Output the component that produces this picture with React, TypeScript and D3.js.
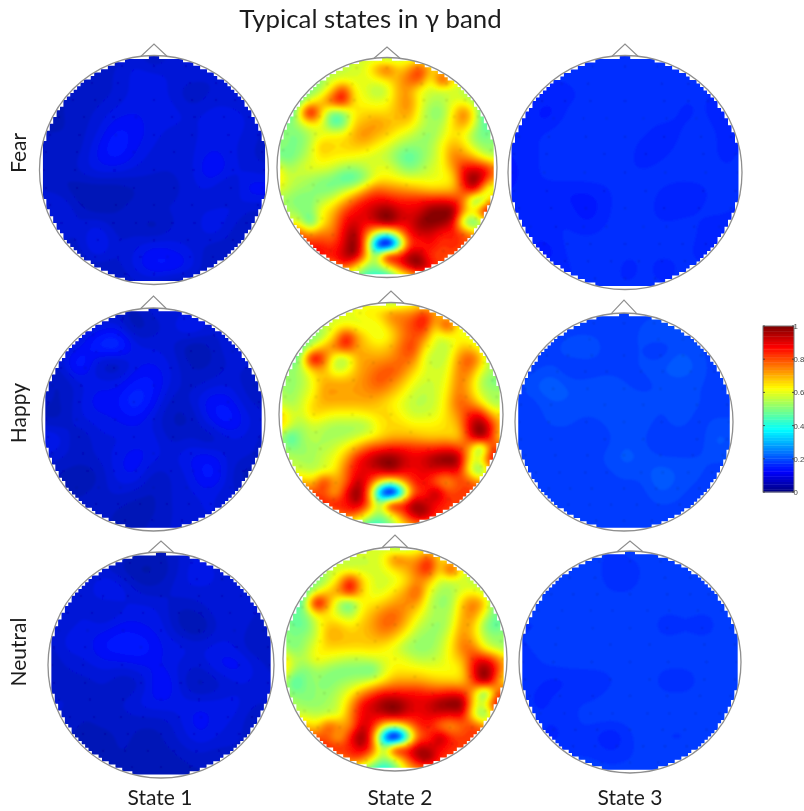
import React, { useMemo } from "react";
import * as d3 from "d3";

// ---------- values (percent of the 0..1 colour range) ----------
const fearState2 = [
[55,55,55,55,55,55,55,58,58,56,52,56,58,58,58,58,58,58,58,58,58],
[55,55,55,55,55,55,57,58,60,70,78,67,72,82,68,64,60,58,58,58,58],
[50,50,50,50,52,58,60,60,60,62,66,70,78,80,62,84,66,58,56,56,56],
[45,45,45,50,56,68,84,64,60,55,58,70,72,62,58,58,58,56,50,48,48],
[42,42,48,62,68,80,86,66,62,60,62,70,74,62,55,55,60,60,54,46,46],
[42,42,60,92,68,50,52,63,66,66,66,70,72,60,52,52,64,76,60,42,42],
[50,50,55,64,62,46,48,66,70,73,70,68,66,58,54,55,66,72,58,45,50],
[52,50,50,55,60,62,63,70,74,70,67,62,58,54,52,58,65,62,52,48,52],
[52,50,50,56,68,66,66,68,68,64,60,55,52,52,54,62,70,66,56,52,52],
[50,48,52,58,65,64,63,62,60,58,56,50,46,50,55,62,75,74,68,58,56],
[62,54,57,60,60,58,54,53,56,60,60,55,50,53,58,62,72,86,88,85,72],
[66,58,56,54,52,50,46,46,52,62,64,62,60,60,60,62,66,90,100,85,70],
[60,56,53,52,50,50,55,60,70,78,76,74,72,70,68,68,70,82,90,62,55],
[55,52,50,50,55,60,68,78,85,88,88,85,85,86,87,88,85,75,48,60,82],
[55,55,52,50,62,68,80,87,90,95,100,93,90,92,100,100,100,72,66,92,85],
[60,60,60,46,62,72,85,92,88,92,100,92,90,98,100,98,90,54,46,60,60],
[80,80,80,72,76,76,88,98,80,58,48,66,86,92,92,86,85,80,70,70,70],
[85,85,85,85,84,82,90,100,76,22,0,36,80,84,88,82,85,80,80,80,80],
[88,88,88,88,88,86,92,98,74,52,88,85,96,96,82,82,80,80,80,80,80],
[70,70,70,70,70,70,82,70,55,50,62,78,92,98,88,80,75,75,75,75,75],
[45,45,45,45,45,45,45,50,42,40,38,50,60,70,70,70,70,70,70,70,70],
];
const happyState2 = [
[58,58,58,58,58,58,58,60,60,58,52,56,60,60,60,60,60,60,60,60,60],
[58,58,58,58,58,58,60,62,64,66,74,74,76,84,72,64,62,60,60,60,60],
[52,52,52,52,56,60,62,60,60,62,70,76,82,86,68,84,64,60,58,58,58],
[50,50,50,50,56,68,86,72,64,60,65,75,80,76,60,62,62,60,56,54,54],
[46,46,46,60,70,76,84,72,68,66,70,78,82,66,58,56,66,68,60,52,52],
[44,44,56,92,80,58,56,70,72,72,74,78,76,60,56,58,72,80,70,50,50],
[52,52,55,68,70,58,60,70,74,78,80,76,68,60,58,60,74,76,62,54,54],
[52,52,54,62,70,70,70,72,76,80,76,70,62,58,58,62,75,70,56,50,50],
[55,52,56,62,72,72,72,72,74,74,70,64,58,56,58,64,76,70,58,54,54],
[58,54,58,66,70,70,70,70,70,68,64,60,56,56,58,66,78,76,66,55,55],
[68,60,58,66,64,62,62,62,64,66,66,62,58,58,60,66,74,85,88,70,64],
[68,58,54,58,56,54,54,54,56,64,66,66,64,64,64,66,70,90,100,85,66],
[56,44,52,56,54,54,55,58,62,66,70,70,70,68,68,68,68,85,100,82,62],
[56,50,52,54,55,58,64,72,80,84,86,86,84,84,84,86,82,72,48,82,78],
[56,56,54,54,58,62,72,86,92,98,100,94,90,92,98,100,98,66,62,90,80],
[58,58,58,56,60,64,78,88,90,92,97,90,88,90,90,88,88,62,48,72,72],
[70,70,70,68,84,72,78,94,85,66,58,70,84,88,78,72,80,80,72,70,70],
[80,80,80,80,80,70,88,100,76,24,0,38,78,84,96,82,82,82,80,80,80],
[85,85,85,85,85,86,86,94,78,54,88,84,98,94,88,84,82,80,80,80,80],
[70,70,70,70,70,72,80,74,60,50,60,76,92,96,84,80,75,75,75,75,75],
[48,48,48,48,48,50,50,50,40,42,50,62,70,70,70,70,70,70,70,70,70],
];
const neutralState2 = [
[58,58,58,58,58,58,58,58,58,58,50,52,58,60,60,60,60,60,60,60,60],
[58,58,58,58,58,58,58,58,58,62,76,72,72,82,66,62,60,60,60,60,60],
[50,50,50,52,56,58,58,58,58,60,66,70,78,86,66,84,62,58,58,58,58],
[48,48,48,50,56,68,86,68,60,58,60,66,74,70,58,58,58,56,54,50,50],
[44,44,46,60,68,74,86,68,60,60,66,72,80,62,54,54,60,62,56,48,48],
[42,42,54,92,74,54,48,62,64,68,72,74,72,58,52,54,68,76,68,46,46],
[48,48,50,64,64,58,54,64,70,76,78,72,64,56,54,56,70,74,60,48,50],
[50,48,48,58,68,68,64,68,72,78,76,68,58,54,52,58,72,68,52,46,50],
[52,50,52,58,70,70,68,68,70,72,68,60,54,52,54,62,74,68,56,52,54],
[54,50,54,62,66,66,66,66,66,64,60,54,52,52,56,64,76,76,62,56,52],
[66,56,56,62,60,58,56,56,58,60,62,60,56,56,58,64,70,84,88,78,66],
[66,54,50,54,52,50,50,50,48,58,64,64,64,62,62,62,66,88,100,86,66],
[58,44,50,52,50,52,54,56,60,66,72,72,72,70,68,68,68,82,98,78,60],
[54,50,50,52,52,56,62,72,80,86,86,86,86,84,84,86,84,70,46,74,86],
[54,54,52,52,54,58,70,86,92,98,100,94,90,92,98,100,100,66,60,90,85],
[58,58,58,56,58,60,74,88,90,92,96,90,88,90,90,88,88,62,48,72,72],
[70,70,70,66,80,74,74,92,86,64,56,68,82,86,76,72,78,82,74,72,72],
[80,80,80,80,78,70,86,100,78,26,0,36,76,82,96,84,82,82,80,80,80],
[85,85,85,85,85,84,84,92,80,54,86,84,96,94,88,84,82,80,80,80,80],
[70,70,70,70,70,72,80,76,62,50,58,76,92,98,84,80,75,75,75,75,75],
[48,48,48,48,48,50,50,50,42,36,46,62,70,70,70,70,70,70,70,70,70],
];
const fearState1 = [
[7,7,7,7,7,9,5,9,8,8,7,7,7],
[7,7,7,7,8,10,10,9,9,8,8,7,7],
[6,6,7,7,8,10,10,9,6,8,8,7,7],
[6,6,7,8,10,11,10,10,9,10,10,9,7],
[6,6,7,9,13,12,10,9,9,10,10,9,7],
[8,8,7,11,14,11,9,8,9,11,10,8,7],
[7,6,8,10,10,9,8,8,9,13,10,9,8],
[8,7,5,5,5,6,7,7,9,9,7,12,12],
[8,10,7,5,6,7,8,8,9,9,10,8,8],
[8,9,8,10,7,7,5,8,8,11,8,6,7],
[8,8,7,12,8,9,11,10,9,7,7,7,7],
[7,7,6,7,7,10,13,13,10,6,7,7,7],
[6,6,6,6,6,7,7,5,6,6,6,6,6],
];
const happyState1 = [
[8,8,8,8,7,6,9,8,9,9,8,8,8],
[8,8,8,9,10,5,7,9,12,9,8,8,8],
[8,8,10,15,17,10,9,8,5,6,9,8,8],
[8,8,15,8,6,10,11,9,6,6,8,8,8],
[7,6,9,10,10,13,13,9,7,8,9,7,7],
[7,6,9,12,12,16,12,7,8,12,12,8,7],
[6,6,9,10,11,12,9,6,6,11,14,10,8],
[12,10,6,9,9,10,10,7,8,6,9,9,7],
[9,8,7,8,10,12,10,9,11,12,9,8,7],
[7,6,5,6,10,11,7,8,10,14,9,5,6],
[7,6,6,7,8,7,6,8,9,10,8,8,7],
[7,7,7,7,6,5,6,8,8,10,8,8,8],
[7,7,7,7,6,6,7,8,8,8,8,8,8],
];
const neutralState1 = [
[8,8,8,8,7,6,6,8,9,8,8,8,8],
[8,8,8,8,6,4,5,8,11,9,8,8,8],
[8,8,8,12,10,7,7,9,9,9,9,8,8],
[8,8,9,7,9,10,9,6,7,9,9,8,8],
[8,9,10,10,12,11,10,6,4,8,9,7,7],
[7,10,10,13,14,14,11,10,9,10,9,6,7],
[6,8,9,10,10,11,11,9,8,11,12,9,7],
[7,7,7,8,6,8,13,9,5,7,9,9,8],
[8,8,7,7,8,10,11,10,10,10,10,8,8],
[8,7,6,7,7,7,7,9,12,10,9,6,7],
[7,6,6,5,7,5,6,8,10,9,8,7,7],
[6,6,6,6,6,5,5,6,7,6,7,7,7],
[6,6,6,6,6,5,5,5,6,6,6,6,6],
];
const fearState3 = [
[16,16,16,16,16,16,15,17,17,17,17,16,16],
[16,16,16,16,17,17,17,17,17,17,16,16,16],
[16,16,15,15,16,17,17,17,17,16,16,15,15],
[15,15,13,16,17,17,17,17,17,15,16,14,14],
[15,15,16,17,17,17,17,16,14,16,17,15,15],
[14,15,16,17,17,17,17,14,15,17,17,15,16],
[13,15,16,17,17,17,16,16,17,17,17,16,16],
[14,15,15,14,14,15,17,17,15,14,15,17,16],
[15,15,14,15,13,15,17,17,14,15,16,16,15],
[15,14,15,16,15,16,17,17,17,17,15,14,15],
[15,15,13,16,17,17,16,16,16,16,15,15,15],
[16,16,15,15,17,17,15,16,15,16,16,16,16],
[16,16,16,16,16,16,16,16,16,16,16,16,16],
];
const happyState3 = [
[18,18,18,18,18,18,18,18,18,18,18,18,18],
[18,18,18,18,18,18,18,19,21,19,18,18,18],
[18,18,18,20,21,18,18,19,17,20,19,18,18],
[18,18,19,17,17,18,18,19,20,22,20,18,18],
[18,20,22,20,20,20,19,18,19,19,19,18,18],
[18,18,20,20,20,20,20,20,19,19,19,18,18],
[18,18,19,19,18,19,20,20,18,20,18,19,19],
[18,18,18,18,18,18,20,19,17,17,17,21,20],
[18,18,18,18,18,19,21,20,19,19,19,19,19],
[18,18,18,18,18,18,19,19,22,20,19,18,18],
[18,18,18,18,18,18,18,18,20,19,18,18,18],
[18,18,18,18,18,18,18,18,18,18,18,18,18],
[18,18,18,18,18,18,18,18,18,18,18,18,18],
];
const neutralState3 = [
[18,18,18,18,18,17,18,18,18,18,18,18,18],
[18,18,18,18,18,16,16,18,18,18,18,18,18],
[18,18,18,18,18,17,17,18,18,18,18,18,18],
[18,18,18,18,18,18,18,18,18,18,18,18,18],
[17,17,18,18,18,18,18,18,16,17,16,18,18],
[17,18,18,18,18,18,18,18,18,18,18,18,18],
[15,17,18,18,18,18,18,18,18,18,18,18,18],
[17,16,15,16,16,17,18,18,16,16,18,18,17],
[17,15,16,17,17,18,18,18,18,18,18,18,18],
[17,16,16,17,18,18,18,18,18,18,17,18,18],
[17,16,15,17,16,14,17,18,17,17,18,18,18],
[17,17,17,17,17,16,17,18,18,18,18,18,18],
[18,18,18,18,18,18,18,18,18,18,18,18,18],
];

const rowLabels = ["Fear", "Happy", "Neutral"];
const columnLabels = ["State 1", "State 2", "State 3"];
const titleText = "Typical states in γ band";
const colorbarTicks = [0, 0.2, 0.4, 0.6, 0.8, 1];
// electrode rows: head-relative y, then x's
const electrodeRowY = [-0.92, -0.77, -0.62, -0.47, -0.31, -0.16, 0, 0.16, 0.31, 0.47, 0.62, 0.77, 0.92];
const electrodeRowX = [
  [-0.28, 0, 0.28],
  [-0.55, -0.32, 0.32, 0.55],
  [-0.72, -0.52, -0.3, 0, 0.34, 0.55, 0.72],
  [-0.84, -0.62, -0.36, -0.16, 0.16, 0.36, 0.62, 0.84],
  [-0.92, -0.66, -0.34, 0, 0.34, 0.66, 0.92],
  [-0.96, -0.68, -0.18, 0.18, 0.68, 0.96],
  [-0.98, -0.7, -0.35, 0, 0.35, 0.7, 0.98],
  [-0.96, -0.68, -0.18, 0.18, 0.68, 0.96],
  [-0.92, -0.64, -0.34, 0, 0.34, 0.64, 0.92],
  [-0.82, -0.6, -0.36, -0.16, 0.16, 0.36, 0.6, 0.82],
  [-0.7, -0.5, -0.3, 0, 0.3, 0.5, 0.7],
  [-0.52, -0.32, -0.12, 0.12, 0.32, 0.52],
  [-0.26, 0, 0.26],
];

// ---------- layout ----------
const W = 804, H = 811;
const font = "Lato, 'Open Sans', sans-serif";
const panels = [
  { grid: fearState1, cx: 154, cy: 170, r: 114.5, tip: 44 },
  { grid: fearState2, cx: 387, cy: 167.5, r: 110, tip: 47 },
  { grid: fearState3, cx: 625, cy: 172.5, r: 117, tip: 44 },
  { grid: happyState1, cx: 153.5, cy: 419.5, r: 111.5, tip: 296 },
  { grid: happyState2, cx: 391, cy: 414.5, r: 112, tip: 291 },
  { grid: happyState3, cx: 624, cy: 422, r: 109, tip: 300 },
  { grid: neutralState1, cx: 161, cy: 665, r: 113, tip: 541 },
  { grid: neutralState2, cx: 395, cy: 659, r: 112, tip: 535 },
  { grid: neutralState3, cx: 630, cy: 662, r: 111, tip: 541 },
];
const rowLabelPos = [{ x: 26, y: 153 }, { x: 26, y: 413 }, { x: 26, y: 652 }];
const colLabelX = [160, 400, 630];
const bar = { x: 763, y: 326, w: 31, h: 166 };

const clamp = (v: number) => Math.max(0, Math.min(1, v));
function jetParts(v: number) {
  return [
    clamp(Math.min(4 * v - 1.5, -4 * v + 4.5)),
    clamp(Math.min(4 * v - 0.5, -4 * v + 3.5)),
    clamp(Math.min(4 * v + 0.5, -4 * v + 2.5)),
  ];
}
function jet(v: number) {
  const [r, g, b] = jetParts(v);
  return d3.rgb(r * 255, g * 255, b * 255).formatRgb();
}
// the lowest end of the maps is a little washed out in the picture
function mapColor(v: number) {
  const [r, g, b] = jetParts(v);
  const lift = v < 0.1 ? 0.07 : v < 0.2 ? 0.07 * (0.2 - v) / 0.1 : 0;
  return d3.rgb((r + lift * 0.3) * 255, (g + lift) * 255, b * 255).formatRgb();
}

// Catmull-Rom resampling of a value table, so that contour bands come out round
function resample(grid: number[][], factor: number) {
  const n = grid.length;
  const m = (n - 1) * factor + 1;
  const at = (i: number, j: number) =>
    grid[Math.max(0, Math.min(n - 1, j))][Math.max(0, Math.min(n - 1, i))] / 100;
  const cr = (a: number, b: number, c: number, d: number, t: number) =>
    0.5 * (2 * b + (c - a) * t + (2 * a - 5 * b + 4 * c - d) * t * t + (3 * b - a - 3 * c + d) * t * t * t);
  const out = new Float64Array(m * m);
  for (let y = 0; y < m; y++) {
    const j = Math.min(n - 2, Math.floor(y / factor));
    const ty = y / factor - j;
    for (let x = 0; x < m; x++) {
      const i = Math.min(n - 2, Math.floor(x / factor));
      const tx = x / factor - i;
      const row = [-1, 0, 1, 2].map((k) =>
        cr(at(i - 1, j + k), at(i, j + k), at(i + 1, j + k), at(i + 2, j + k), tx)
      );
      out[y * m + x] = clamp(cr(row[0], row[1], row[2], row[3], ty));
    }
  }
  d3.blur2({ data: out, width: m, height: m }, factor * 0.3);
  return { values: out, size: m };
}

const levels = d3.range(0, 1, 1 / 64);

function Map({ p, id }: { p: (typeof panels)[number]; id: string }) {
  const { bands, mask, rm } = useMemo(() => {
    const factor = p.grid.length > 15 ? 8 : 12;
    const { values, size } = resample(p.grid, factor);
    const sx = d3.scaleLinear().domain([0.5, size - 0.5]).range([p.cx - p.r, p.cx + p.r]);
    const sy = d3.scaleLinear().domain([0.5, size - 0.5]).range([p.cy - p.r, p.cy + p.r]);
    const path = d3.geoPath(
      d3.geoTransform({
        point(x: number, y: number) {
          (this as any).stream.point(sx(x), sy(y));
        },
      })
    );
    const cont = d3.contours().size([size, size]).smooth(true).thresholds(levels)(Array.from(values));
    const bands = cont
      .filter((c) => c.coordinates.length > 0)
      .map((c) => ({ d: path(c as any) || "", fill: mapColor(c.value + 1 / 128) }));
    // square-pixel mask of the head, as one staircase outline
    const rm = p.r * 0.985;
    const cs = rm / 33;
    const rows = d3.range(-33, 33).map((j) => ({
      j,
      half: j === -33 ? 1 : Math.min(32, Math.floor(Math.sqrt(33 * 33 - j * j) + 1e-6)),
    }));
    const right = rows.flatMap((s) => [
      [p.cx + (s.half + 0.5) * cs, p.cy + (s.j - 0.5) * cs],
      [p.cx + (s.half + 0.5) * cs, p.cy + (s.j + 0.5) * cs],
    ]);
    const left = rows
      .slice()
      .reverse()
      .flatMap((s) => [
        [p.cx - (s.half + 0.5) * cs, p.cy + (s.j + 0.5) * cs],
        [p.cx - (s.half + 0.5) * cs, p.cy + (s.j - 0.5) * cs],
      ]);
    const mask = d3.line()([...right, ...left] as [number, number][]) + "Z";
    return { bands, mask, rm };
  }, [p]);
  const dx = Math.sqrt(p.r * p.r - Math.pow(13, 2));
  return (
    <g>
      <clipPath id={id}>
        <path d={mask} />
      </clipPath>
      <g filter="url(#edge)">
        <g clipPath={`url(#${id})`}>
          <g filter="url(#soft)">
            <rect x={p.cx - p.r - 4} y={p.cy - p.r - 4} width={2 * p.r + 8} height={2 * p.r + 8} fill={mapColor(0.1)} />
            {bands.map((b, i) => (
              <path key={i} d={b.d} fill={b.fill} />
            ))}
            {electrodeRowY.map((y, i) =>
              electrodeRowX[i].map((x, k) => (
                <circle key={`${i}-${k}`} cx={p.cx + x * rm} cy={p.cy + y * rm} r={0.7} fill="#101010" opacity={0.45} />
              ))
            )}
          </g>
        </g>
      </g>
      <circle cx={p.cx} cy={p.cy} r={p.r} fill="none" stroke="#8e8e8e" strokeWidth={1.3} />
      <path
        d={`M${p.cx - 13},${p.cy - dx} L${p.cx},${p.tip} L${p.cx + 13},${p.cy - dx}`}
        fill="none"
        stroke="#8e8e8e"
        strokeWidth={1.1}
      />
    </g>
  );
}

export default function App() {
  const barScale = d3.scaleLinear().domain([0, 1]).range([bar.y + bar.h, bar.y]);
  const steps = d3.range(0, 1, 1 / 64);
  return (
    <svg width={W} height={H} viewBox={`0 0 ${W} ${H}`} style={{ position: "absolute", left: 0, top: 0, display: "block" }}>
      <defs>
        <filter id="soft" x="-5%" y="-5%" width="110%" height="110%">
          <feGaussianBlur stdDeviation={0.8} />
        </filter>
        <filter id="edge" x="-5%" y="-5%" width="110%" height="110%">
          <feGaussianBlur stdDeviation={0.35} />
        </filter>
        <filter id="softText" x="-5%" y="-20%" width="110%" height="140%">
          <feGaussianBlur stdDeviation={0.3} />
        </filter>
      </defs>
      <rect width={W} height={H} fill="#fff" />
      {panels.map((p, i) => (
        <Map key={i} p={p} id={`mask${i}`} />
      ))}
      <g fontFamily={font} fill="#1c1c1c" filter="url(#softText)">
        <text x={370.5} y={28} fontSize={25.8} textAnchor="middle">{titleText}</text>
        {rowLabels.map((t, i) => (
          <text key={t} transform={`translate(${rowLabelPos[i].x},${rowLabelPos[i].y}) rotate(-90)`} fontSize={21} textAnchor="middle">
            {t}
          </text>
        ))}
        {columnLabels.map((t, i) => (
          <text key={t} x={colLabelX[i]} y={805} fontSize={21} textAnchor="middle">{t}</text>
        ))}
      </g>
      <g filter="url(#softText)">
        {steps.map((s) => (
          <rect
            key={s}
            x={bar.x}
            y={barScale(s + 1 / 64)}
            width={bar.w}
            height={barScale(s) - barScale(s + 1 / 64) + 0.4}
            fill={jet(s + 1 / 128)}
          />
        ))}
        <rect x={bar.x} y={bar.y} width={bar.w} height={bar.h} fill="none" stroke="#777" strokeWidth={1} />
        {colorbarTicks.map((t) => (
          <g key={t}>
            <line x1={bar.x} x2={bar.x + 2} y1={barScale(t)} y2={barScale(t)} stroke="#333" strokeWidth={0.8} />
            <line x1={bar.x + bar.w - 2} x2={bar.x + bar.w} y1={barScale(t)} y2={barScale(t)} stroke="#333" strokeWidth={0.8} />
            <text x={793.5} y={barScale(t) + 3} fontSize={7.8} fontFamily="'Liberation Sans', Arial, sans-serif" fill="#444">
              {d3.format("~g")(t)}
            </text>
          </g>
        ))}
      </g>
    </svg>
  );
}
